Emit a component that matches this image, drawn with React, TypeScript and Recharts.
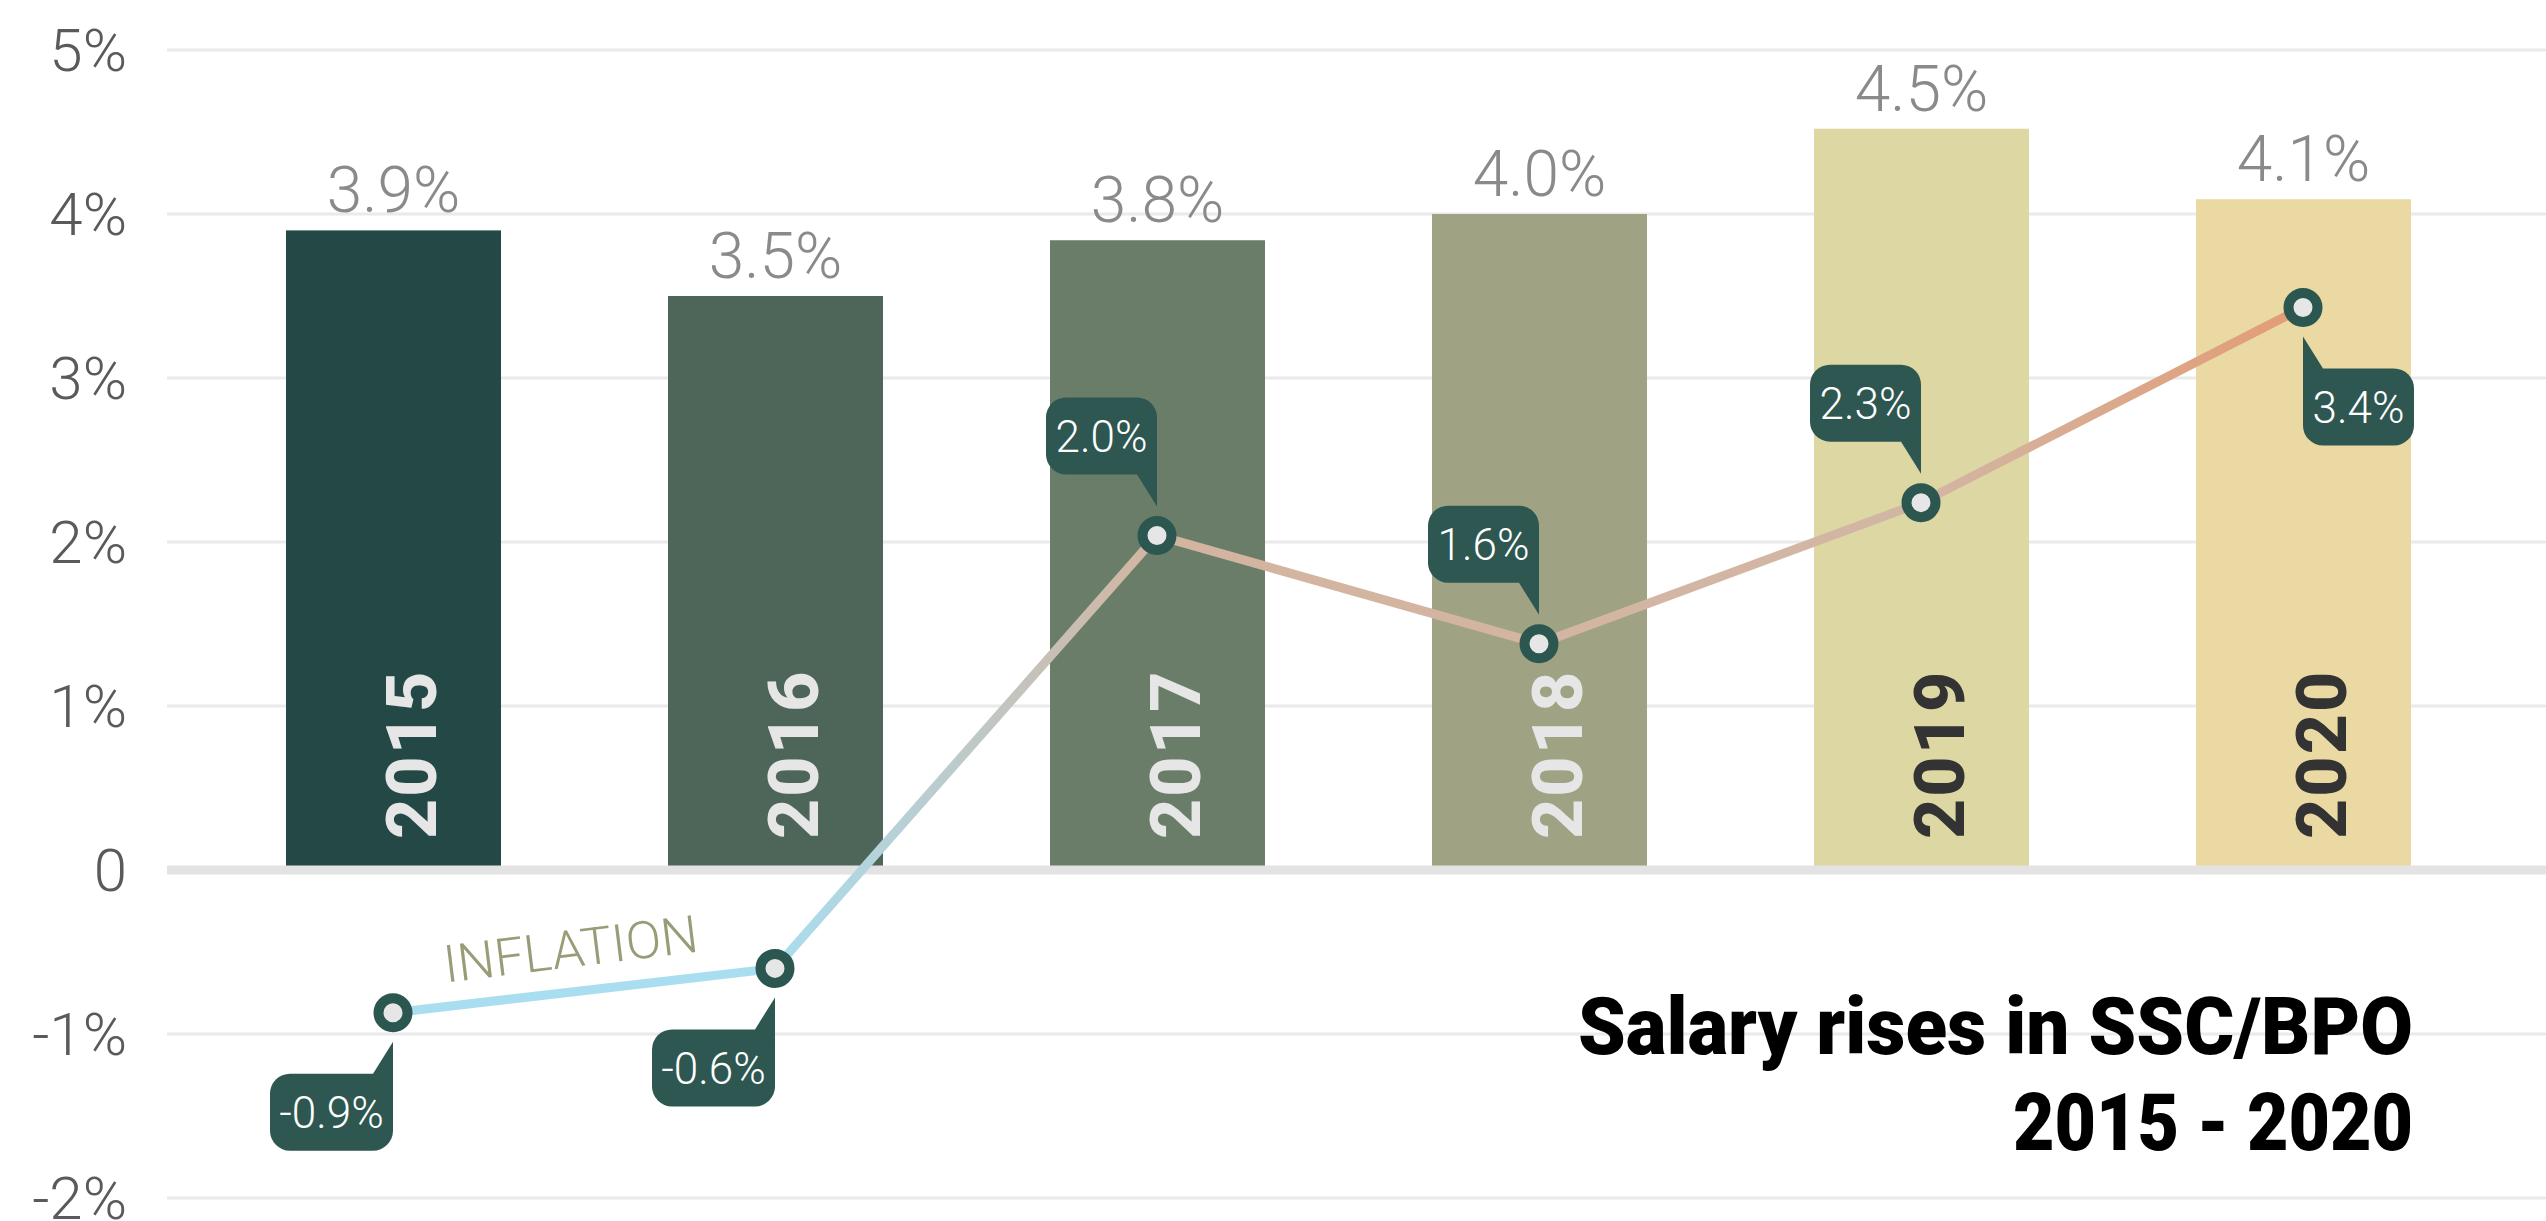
import React from 'react';
import { ComposedChart, Bar, Line, XAxis, YAxis, CartesianGrid, ReferenceLine } from 'recharts';

const years = ['2015', '2016', '2017', '2018', '2019', '2020'];
const salaryRise = [3.9, 3.5, 3.84, 4.0, 4.52, 4.09];
const inflation = [-0.87, -0.6, 2.04, 1.38, 2.24, 3.43];
const inflationLabels = ['-0.9%', '-0.6%', '2.0%', '1.6%', '2.3%', '3.4%'];
const yTicks = [-2, -1, 0, 1, 2, 3, 4, 5];
const titleLines = ['Salary rises in SSC/BPO', '2015 - 2020'];
const seriesName = 'INFLATION';

const barColors = ['#244845', '#4e665a', '#6a7d68', '#9fa384', '#ddd7a4', '#ead9a2'];
const yearTextColors = ['#e6e6e6', '#e6e6e6', '#e6e6e6', '#e6e6e6', '#333333', '#333333'];
const calloutPlacement = ['below-left', 'below-left', 'above-left', 'above-left', 'above-left', 'below-right'];

const data = years.map((year, i) => ({
  year,
  salary: salaryRise[i],
  inflation: inflation[i],
  label: inflationLabels[i],
}));

const FONT = 'Roboto, "Noto Sans", sans-serif';
const CALLOUT_FILL = '#2d5750';

const renderBar = (props: any) => {
  const { x, y, width, height, index, value } = props;
  const cx = x + width / 2;
  const zeroY = y + height;
  const v = Array.isArray(value) ? value[1] : value;
  const tx = cx + 42;
  const ty = zeroY - 31;
  return (
    <g>
      <rect x={x} y={y} width={width} height={height} fill={barColors[index]} />
      <text
        x={cx}
        y={y - 18}
        textAnchor="middle"
        fill="#8a8a8a"
        fontSize={64}
        fontWeight={300}
        fontFamily={FONT}
      >
        {`${Number(v).toFixed(1)}%`}
      </text>
      <text
        x={tx}
        y={ty}
        transform={`rotate(-90, ${tx}, ${ty})`}
        textAnchor="start"
        fill={yearTextColors[index]}
        fontSize={70}
        fontWeight={800}
        fontFamily={FONT}
        letterSpacing={2}
      >
        {years[index]}
      </text>
    </g>
  );
};

const renderDot = (props: any) => {
  const { cx, cy, index } = props;
  if (cx == null || cy == null) return <g key={`d${index}`} />;
  const text = inflationLabels[index];
  const W = 111 + (text.length - 4) * 12;
  const H = 77;
  const G = 61;
  const R = 20;
  const T = 20;
  const tip = 29;
  const place = calloutPlacement[index];
  let bx = 0, by = 0, poly = '';
  if (place === 'above-left') {
    bx = cx - W; by = cy - G - H;
    poly = `${cx - T},${cy - G} ${cx},${cy - G - R} ${cx},${cy - tip}`;
  } else if (place === 'below-left') {
    bx = cx - W; by = cy + G;
    poly = `${cx - T},${cy + G} ${cx},${cy + G + R} ${cx},${cy + tip}`;
  } else {
    bx = cx; by = cy + G;
    poly = `${cx + T},${cy + G} ${cx},${cy + G + R} ${cx},${cy + tip}`;
  }
  return (
    <g key={`d${index}`}>
      <rect x={bx} y={by} width={W} height={H} rx={R} ry={R} fill={CALLOUT_FILL} />
      <polygon points={poly} fill={CALLOUT_FILL} />
      <text
        x={bx + W / 2}
        y={by + H / 2 + 16}
        textAnchor="middle"
        fill="#ffffff"
        fontSize={44}
        fontWeight={300}
        fontFamily={FONT}
      >
        {text}
      </text>
      <circle cx={cx} cy={cy} r={14.5} fill="#e6e6e6" stroke="#2c5750" strokeWidth={10} />
    </g>
  );
};

export default function App() {
  return (
    <div style={{ position: 'absolute', left: 0, top: 0, width: 2546, height: 1221, background: '#ffffff' }}>
      <ComposedChart
        width={2546}
        height={1221}
        data={data}
        margin={{ top: 50, right: 0, bottom: 23, left: 0 }}
        barSize={215}
      >
        <defs>
          <linearGradient id="inflGrad" x1="0" y1="0" x2="1" y2="0">
            <stop offset="0" stopColor="#a9def0" />
            <stop offset="0.2" stopColor="#a9def0" />
            <stop offset="0.4" stopColor="#d3b4a0" />
            <stop offset="0.8" stopColor="#d2b6a4" />
            <stop offset="1" stopColor="#e39c74" />
          </linearGradient>
        </defs>
        <CartesianGrid vertical={false} stroke="#eaeaea" strokeWidth={3} />
        <XAxis dataKey="year" hide padding={{ left: 35, right: 52 }} />
        <YAxis
          domain={[-2, 5]}
          ticks={yTicks}
          interval={0}
          width={167}
          tickSize={0}
          tickMargin={40}
          axisLine={false}
          tickLine={false}
          tick={{ fill: '#5a5a5a', fontSize: 60, fontFamily: FONT, fontWeight: 300 }}
          tickFormatter={(v: number) => (v === 0 ? '0' : `${v}%`)}
        />
        <ReferenceLine y={0} stroke="#e3e3e3" strokeWidth={9} />
        <Bar dataKey="salary" shape={renderBar} isAnimationActive={false} />
        <Line
          type="linear"
          dataKey="inflation"
          stroke="url(#inflGrad)"
          strokeWidth={9}
          dot={renderDot}
          activeDot={false}
          isAnimationActive={false}
        />
      </ComposedChart>
      <svg
        width={2546}
        height={1221}
        style={{ position: 'absolute', left: 0, top: 0, pointerEvents: 'none' }}
      >
        <text
          x={573}
          y={967}
          transform="rotate(-7, 573, 967)"
          textAnchor="middle"
          fill="#9a9c78"
          fontSize={52}
          fontWeight={300}
          fontFamily={FONT}
          textLength={256}
          lengthAdjust="spacingAndGlyphs"
        >
          {seriesName}
        </text>
        <text
          x={2413}
          y={1054}
          textAnchor="end"
          fill="#000000"
          fontSize={80}
          fontWeight={900}
          fontFamily={FONT}
          textLength={835}
          lengthAdjust="spacingAndGlyphs"
        >
          {titleLines[0]}
        </text>
        <text
          x={2413}
          y={1150}
          textAnchor="end"
          fill="#000000"
          fontSize={80}
          fontWeight={900}
          fontFamily={FONT}
          textLength={400}
          lengthAdjust="spacingAndGlyphs"
        >
          {titleLines[1]}
        </text>
      </svg>
    </div>
  );
}
